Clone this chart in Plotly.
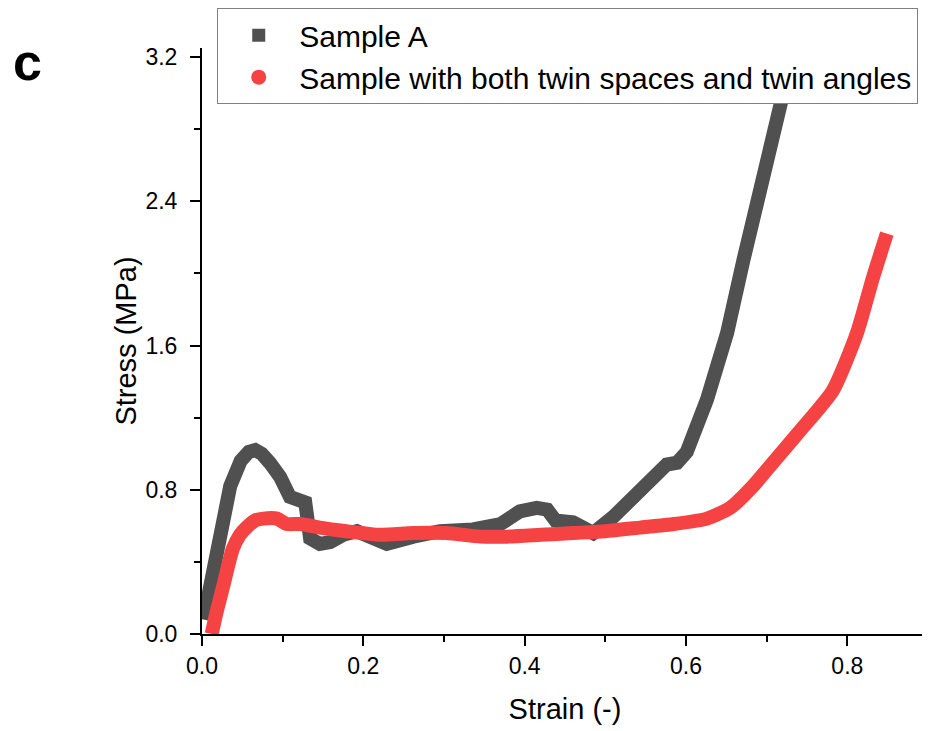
import plotly.graph_objects as go

# Sample A
strain_a = [0.002, 0.012, 0.022, 0.035, 0.048, 0.058, 0.066, 0.074, 0.084, 0.097, 0.109, 0.118,
            0.128, 0.134, 0.146, 0.159, 0.175, 0.192, 0.210, 0.229, 0.262, 0.295, 0.336, 0.370,
            0.394, 0.415, 0.428, 0.438, 0.460, 0.477, 0.485, 0.510, 0.535, 0.556, 0.576, 0.589,
            0.601, 0.626, 0.651, 0.671, 0.692, 0.708, 0.719]
stress_a = [0.08, 0.28, 0.56, 0.82, 0.96, 1.01, 1.02, 1.00, 0.95, 0.87, 0.76, 0.74,
            0.73, 0.53, 0.50, 0.51, 0.55, 0.57, 0.53, 0.50, 0.54, 0.57, 0.58, 0.61,
            0.68, 0.70, 0.69, 0.63, 0.62, 0.59, 0.56, 0.65, 0.76, 0.87, 0.94, 0.95,
            1.01, 1.30, 1.67, 2.07, 2.45, 2.70, 2.97]

# Sample with both twin spaces and twin angles
strain_b = [0.012, 0.018, 0.026, 0.038, 0.047, 0.055, 0.066, 0.076, 0.093, 0.105, 0.122, 0.146,
            0.179, 0.221, 0.262, 0.303, 0.345, 0.378, 0.420, 0.460, 0.500, 0.543, 0.585, 0.626,
            0.655, 0.683, 0.704, 0.740, 0.782, 0.812, 0.832, 0.849]
stress_b = [0.00, 0.12, 0.26, 0.47, 0.55, 0.59, 0.63, 0.64, 0.64, 0.61, 0.61, 0.59,
            0.57, 0.55, 0.56, 0.56, 0.54, 0.54, 0.55, 0.56, 0.57, 0.59, 0.61, 0.64,
            0.70, 0.82, 0.93, 1.12, 1.35, 1.67, 1.98, 2.22]

name_a = "Sample A"
name_b = "Sample with both twin spaces and twin angles"
gray = "#505050"
red = "#F54242"

fig = go.Figure()
fig.add_trace(go.Scatter(x=strain_a, y=stress_a, mode="lines", showlegend=False,
                         line=dict(color=gray, width=14)))
fig.add_trace(go.Scatter(x=strain_b, y=stress_b, mode="lines", showlegend=False,
                         line=dict(color=red, width=14, shape="spline", smoothing=0.6)))
# legend entries (marker symbols)
fig.add_trace(go.Scatter(x=[None], y=[None], mode="markers", name=name_a,
                         marker=dict(symbol="square", color=gray, size=13)))
fig.add_trace(go.Scatter(x=[None], y=[None], mode="markers", name=name_b,
                         marker=dict(symbol="circle", color=red, size=15)))

axis_font = dict(family="Liberation Sans, Arial", size=23, color="black")
fig.update_layout(
    width=922, height=723,
    margin=dict(l=194, r=2, t=40, b=97, autoexpand=False),
    paper_bgcolor="white", plot_bgcolor="white",
    font=dict(family="Liberation Sans, Arial", color="black"),
    legend=dict(x=0.021, y=1.068, xanchor="left", yanchor="top",
                bordercolor="#808080", borderwidth=1, bgcolor="white",
                font=dict(size=30, family="Liberation Sans, Arial", color="black"),
                itemwidth=71, tracegroupgap=0),
    xaxis=dict(range=[0, 0.9], tickvals=[0, 0.2, 0.4, 0.6, 0.8], tickformat=".1f",
               showline=True, linecolor="black", linewidth=2, showgrid=False, zeroline=False,
               ticks="outside", ticklen=10, tickwidth=2, tickcolor="black",
               tickfont=axis_font, ticklabelstandoff=0,
               minor=dict(tickvals=[0.1, 0.3, 0.5, 0.7, 0.9], ticks="outside", ticklen=6,
                          tickwidth=2, tickcolor="black", showgrid=False),
               title=dict(text="Strain (-)", font=dict(size=29), standoff=21)),
    yaxis=dict(range=[0, 3.25], tickvals=[0, 0.8, 1.6, 2.4, 3.2], tickformat=".1f",
               showline=True, linecolor="black", linewidth=2, showgrid=False, zeroline=False,
               ticks="outside", ticklen=10, tickwidth=2, tickcolor="black",
               tickfont=axis_font, ticklabelstandoff=8,
               minor=dict(tickvals=[0.4, 1.2, 2.0, 2.8], ticks="outside", ticklen=6,
                          tickwidth=2, tickcolor="black", showgrid=False),
               title=dict(text="Stress (MPa)", font=dict(size=29), standoff=0)),
)
fig.add_annotation(text="<b>c</b>", x=-(202 - 27) / 726, y=(634 - 62) / 586,
                   xref="paper", yref="paper", xanchor="center", yanchor="middle",
                   showarrow=False, font=dict(size=52, family="Liberation Sans, Arial"))
fig.write_html("out.html")
